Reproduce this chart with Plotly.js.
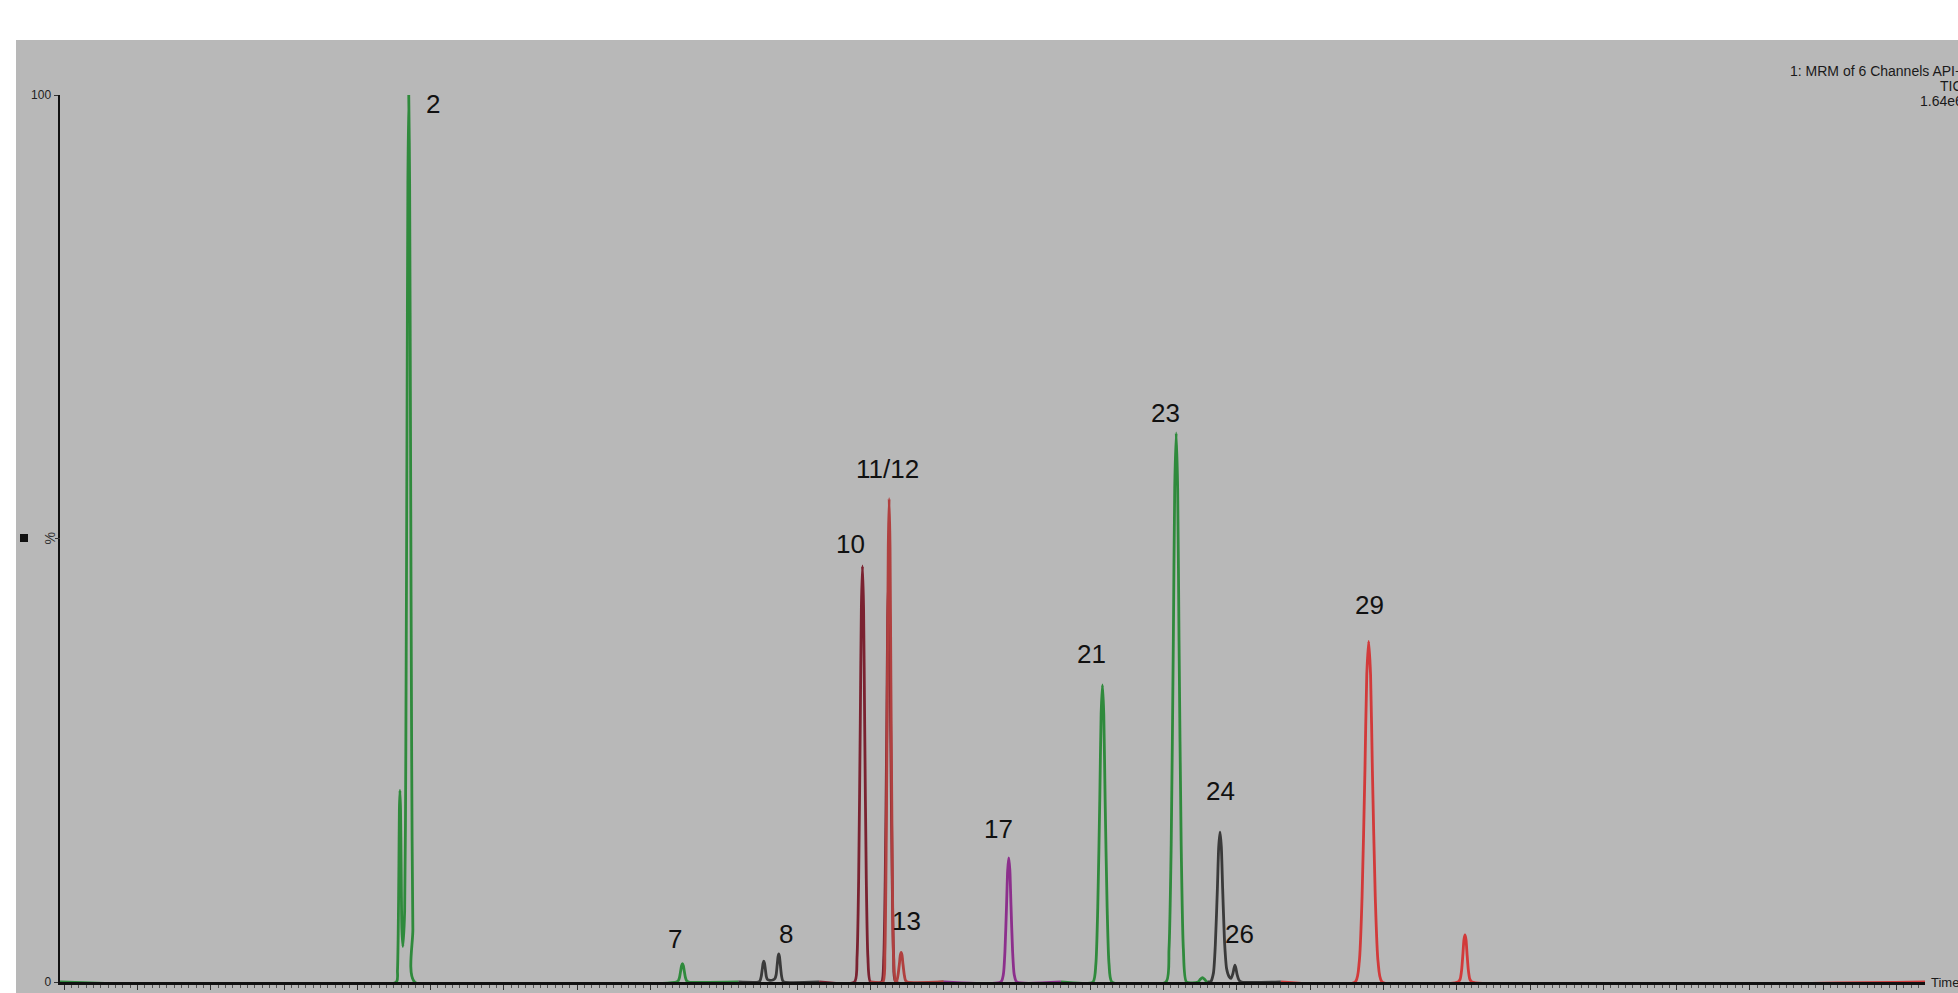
<!DOCTYPE html>
<html>
<head>
<meta charset="utf-8">
<script src="https://cdn.plot.ly/plotly-3.0.1.min.js"></script>
<style>html,body{margin:0;padding:0;background:#fff;overflow:hidden}#chart{width:1958px;height:993px}</style>
</head>
<body>
<div id="chart"></div>
<script>
// ---- data (time in min, intensity in %) ----
const greenA_t = [3.472, 5.766, 5.774, 5.779, 5.784, 5.787, 5.791, 5.795, 5.799, 5.804, 5.811, 5.823, 5.831, 5.839, 5.845, 5.851, 5.857, 5.863, 5.871, 5.879, 5.891, 7.676, 7.689, 7.698, 7.706, 7.712, 7.718, 7.724, 7.730, 7.738, 7.747, 7.760, 8.10];
const greenA_y = [0, 0, 1.3, 5.4, 13.4, 19.4, 21.6, 19.4, 13.4, 6, 4, 8, 26, 62, 90, 100, 90, 62, 25, 6, 0, 0, 0.12, 0.52, 1.28, 1.85, 2.06, 1.85, 1.28, 0.52, 0.12, 0, 0];

const blackA_t = [8.10, 8.236, 8.247, 8.255, 8.2625, 8.268, 8.273, 8.278, 8.2835, 8.2905, 8.2975, 8.308, 8.338, 8.349, 8.357, 8.3645, 8.370, 8.375, 8.380, 8.3855, 8.393, 8.401, 8.412, 8.65];
const blackA_y = [0, 0, 0.14, 0.59, 1.45, 2.1, 2.34, 2.1, 1.45, 0.59, 0.3, 0.2, 0.25, 0.4, 0.8, 1.97, 2.86, 3.18, 2.86, 1.97, 0.8, 0.19, 0, 0];

const darkRed_t = [8.65, 8.892, 8.909, 8.920, 8.931, 8.9385, 8.946, 8.9535, 8.961, 8.972, 8.983, 9.000, 9.076, 9.091, 9.101, 9.1115, 9.118, 9.125, 9.132, 9.1385, 9.149, 9.159, 9.174, 9.50];
const darkRed_y = [0, 0, 2.8, 11.7, 29.1, 42.2, 46.9, 42.2, 29.1, 11.7, 2.8, 0, 0, 2.7, 11.4, 28.3, 41.0, 45.6, 41.0, 28.3, 11.4, 2.7, 0, 0];

const redBrown_t = [9.00, 9.086, 9.099, 9.107, 9.116, 9.122, 9.128, 9.134, 9.140, 9.149, 9.157, 9.170, 9.181, 9.189, 9.198, 9.204, 9.210, 9.216, 9.222, 9.231, 9.239, 9.252, 9.50];
const redBrown_y = [0, 0, 3.3, 13.6, 33.8, 49.1, 54.5, 49.1, 33.8, 13.6, 3.3, 0, 0.2, 0.83, 2.06, 3.0, 3.33, 3.0, 2.06, 0.83, 0.2, 0, 0];

const purple_t = [9.50, 9.890, 9.907, 9.918, 9.929, 9.9365, 9.944, 9.9515, 9.959, 9.970, 9.981, 9.998, 10.30];
const purple_y = [0, 0, 0.84, 3.5, 8.7, 12.6, 14.0, 12.6, 8.7, 3.5, 0.84, 0, 0];

const greenB_t = [10.30, 10.518, 10.538, 10.551, 10.565, 10.574, 10.583, 10.592, 10.601, 10.615, 10.628, 10.648, 11.016, 11.037, 11.052, 11.0665, 11.076, 11.086, 11.096, 11.1055, 11.120, 11.135, 11.156, 11.235, 11.250, 11.265, 11.280, 11.295, 11.32];
const greenB_y = [0, 0, 2.0, 8.4, 20.8, 30.2, 33.5, 30.2, 20.8, 8.4, 2.0, 0, 0, 3.7, 15.5, 38.4, 55.7, 61.9, 55.7, 38.4, 15.5, 3.7, 0, 0, 0.3, 0.5, 0.3, 0, 0];

const blackB_t = [11.30, 11.320, 11.340, 11.353, 11.367, 11.376, 11.385, 11.394, 11.403, 11.417, 11.430, 11.447, 11.460, 11.472, 11.480, 11.487, 11.494, 11.502, 11.515, 11.532, 11.80];
const blackB_y = [0, 0, 1.0, 4.2, 10.5, 15.2, 16.9, 15.2, 10.5, 4.2, 1.5, 0.6, 0.4, 0.9, 1.5, 1.9, 1.5, 0.8, 0.2, 0, 0];

const red_t = [11.80, 12.307, 12.335, 12.354, 12.3735, 12.386, 12.399, 12.412, 12.4245, 12.444, 12.463, 12.491, 13.008, 13.023, 13.033, 13.0425, 13.049, 13.056, 13.063, 13.0695, 13.079, 13.089, 13.104, 16.194];
const red_y = [0, 0, 2.3, 9.6, 23.8, 34.6, 38.4, 34.6, 23.8, 9.6, 2.3, 0, 0, 0.32, 1.33, 3.29, 4.77, 5.3, 4.77, 3.29, 1.33, 0.32, 0, 0];

const peakLabels  = ['2', '7', '8', '10', '11/12', '13', '17', '21', '23', '24', '26', '29'];
const peakTimes   = [5.851, 7.718, 8.375, 8.946, 9.128, 9.210, 9.944, 10.583, 11.086, 11.385, 11.487, 12.399];
const peakHeights = [100, 2.06, 3.18, 46.9, 54.5, 3.33, 14.0, 33.5, 61.9, 16.9, 1.9, 38.4];

const yTickVals = [0, 100];
const yTickText = ['0', '100'];
const headerLines = ['1: MRM of 6 Channels API+', 'TIC', '1.64e6'];
const xAxisName = 'Time';
const yAxisName = '%';

// ---- styles ----
const channels = [
  {t: greenA_t, y: greenA_y, color: '#2f8a3c'},
  {t: blackA_t, y: blackA_y, color: '#3a3a3a'},
  {t: darkRed_t, y: darkRed_y, color: '#7a2230'},
  {t: redBrown_t, y: redBrown_y, color: '#b0403f'},
  {t: purple_t, y: purple_y, color: '#8c2f8c'},
  {t: greenB_t, y: greenB_y, color: '#2f8a3c'},
  {t: blackB_t, y: blackB_y, color: '#3a3a3a'},
  {t: red_t, y: red_y, color: '#d23a3a'}
];
const labelShift = [[24, -9], [-7, 25], [7, 20], [-12, 22], [-2, 30], [5, 31], [-10, 29], [-11, 31], [-11, 20], [0, 41], [5, 31], [1, 36]];

const traces = channels.map(c => ({
  x: c.t, y: c.y, type: 'scatter', mode: 'lines',
  line: {color: c.color, width: 2.8, shape: 'spline', smoothing: 0.6},
  hoverinfo: 'skip', showlegend: false
}));

const L = 60, R = 33, T = 95, B = 11, W = 1958, H = 993;
const pw = W - L - R, ph = H - T - B;
const px = x => (x - L) / pw;
const py = y => (H - B - y) / ph;
const FONT = 'Liberation Sans, Arial, sans-serif';

const annotations = peakLabels.map((s, i) => ({
  x: peakTimes[i], y: peakHeights[i], xref: 'x', yref: 'y', text: s, showarrow: false,
  xanchor: 'center', yanchor: 'middle', xshift: labelShift[i][0], yshift: labelShift[i][1],
  font: {family: FONT, size: 26, color: '#111'}
}));
const headerY = [71, 86, 101];
headerLines.forEach((s, i) => annotations.push({
  x: px(1965), y: py(headerY[i]), xref: 'paper', yref: 'paper', xanchor: 'right', yanchor: 'middle',
  align: 'right', showarrow: false, text: s,
  font: {family: FONT, size: 14, color: '#1a1a1a'}
}));
annotations.push({
  x: px(1929), y: 0, xref: 'paper', yref: 'y', xanchor: 'left', yanchor: 'middle',
  showarrow: false, text: xAxisName,
  font: {family: FONT, size: 13, color: '#1a1a1a'}
});
annotations.push({
  x: px(49), y: 50, xref: 'paper', yref: 'y', xanchor: 'center', yanchor: 'middle',
  showarrow: false, text: yAxisName, textangle: -90,
  font: {family: FONT, size: 14, color: '#333'}
});

const layout = {
  width: W, height: H,
  margin: {l: L, r: R, t: T, b: B, pad: 0},
  paper_bgcolor: '#ffffff', plot_bgcolor: 'rgba(0,0,0,0)',
  showlegend: false,
  xaxis: {
    range: [3.472, 16.194], showgrid: false, zeroline: false,
    showline: true, linecolor: '#111', linewidth: 2.5,
    ticks: 'outside', ticklen: 5, tickwidth: 1, tickcolor: '#333',
    tick0: 4, dtick: 0.5, tickformat: '.2f',
    minor: {ticks: 'outside', ticklen: 3, tickcolor: '#555', dtick: 0.05, tick0: 4, showgrid: false},
    tickfont: {family: FONT, size: 11, color: '#222'},
    fixedrange: true
  },
  yaxis: {
    range: [0, 100], showgrid: false, zeroline: false,
    showline: true, linecolor: '#111', linewidth: 2.5,
    ticks: 'outside', ticklen: 4, tickcolor: '#333',
    tickvals: yTickVals, ticktext: yTickText,
    tickfont: {family: FONT, size: 12, color: '#222'},
    fixedrange: true
  },
  shapes: [
    {type: 'rect', xref: 'paper', yref: 'paper', x0: px(16), x1: px(1970), y0: py(1000), y1: py(40),
     fillcolor: '#b8b8b8', line: {width: 0}, layer: 'below'},
    {type: 'line', xref: 'paper', yref: 'y', x0: px(55), x1: px(60), y0: 50, y1: 50, line: {color: '#333', width: 1}},
    {type: 'rect', xref: 'paper', yref: 'paper', x0: px(20), x1: px(28), y0: py(542), y1: py(534),
     fillcolor: '#111', line: {width: 0}}
  ],
  annotations: annotations
};

Plotly.newPlot('chart', traces, layout, {displayModeBar: false, staticPlot: true});
</script>
</body>
</html>
